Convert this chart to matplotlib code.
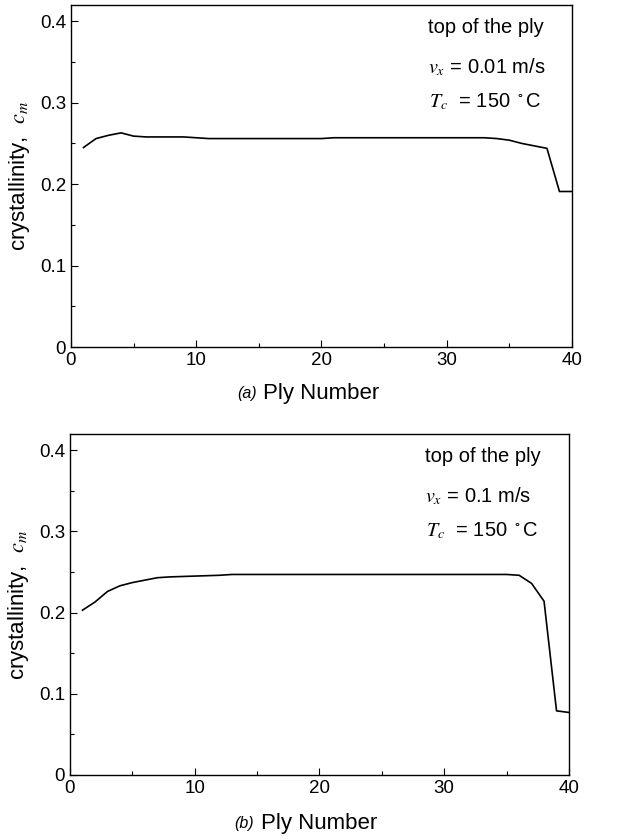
import matplotlib
matplotlib.use("Agg")
import matplotlib.pyplot as plt
from matplotlib.ticker import MultipleLocator, FuncFormatter

plt.rcParams['font.family'] = ['Liberation Sans', 'DejaVu Sans']
plt.rcParams['mathtext.fontset'] = 'stix'

ply = list(range(1, 41))
cryst_a = [0.245, 0.256, 0.260, 0.263, 0.259, 0.258, 0.258, 0.258, 0.258, 0.257,
           0.256, 0.256, 0.256, 0.256, 0.256, 0.256, 0.256, 0.256, 0.256, 0.256,
           0.257, 0.257, 0.257, 0.257, 0.257, 0.257, 0.257, 0.257, 0.257, 0.257,
           0.257, 0.257, 0.257, 0.256, 0.254, 0.250, 0.247, 0.244, 0.191, 0.191]
cryst_b = [0.203, 0.213, 0.226, 0.233, 0.237, 0.240, 0.243, 0.244, 0.2445, 0.245,
           0.2455, 0.246, 0.247, 0.247, 0.247, 0.247, 0.247, 0.247, 0.247, 0.247,
           0.247, 0.247, 0.247, 0.247, 0.247, 0.247, 0.247, 0.247, 0.247, 0.247,
           0.247, 0.247, 0.247, 0.247, 0.247, 0.246, 0.236, 0.214, 0.079, 0.077]
x_ticks = [0, 10, 20, 30, 40]
y_ticks = [0, 0.1, 0.2, 0.3, 0.4]
panel_tags = ['(a)', '(b)']
speeds = ['0.01', '0.1']

fig = plt.figure(figsize=(6.22, 8.39), dpi=100)
axes = [fig.add_axes([0.1141, 0.5864, 0.8055, 0.4076]),
        fig.add_axes([0.1125, 0.0763, 0.8023, 0.4064])]
tag_pos = [(0.372, -0.135), (0.368, -0.141)]

def fmt(v, pos):
    return '0' if abs(v) < 1e-9 else f'{v:.1f}'

for ax, data, tag, sp, tp in zip(axes, [cryst_a, cryst_b], panel_tags, speeds, tag_pos):
    ax.plot(ply, data, color='black', lw=1.2)
    ax.set_xlim(0, 40)
    ax.set_ylim(0, 0.42)
    ax.set_xticks(x_ticks)
    ax.set_yticks(y_ticks)
    ax.yaxis.set_major_formatter(FuncFormatter(fmt))
    ax.xaxis.set_minor_locator(MultipleLocator(5))
    ax.yaxis.set_minor_locator(MultipleLocator(0.05))
    ax.tick_params(which='both', direction='in', labelsize=13.5, width=0.8)
    ax.tick_params(which='major', length=5)
    ax.tick_params(which='minor', length=3)
    for s in ax.spines.values():
        s.set_linewidth(1.0)
    ax.set_ylabel('crystallinity,  $c_m$', fontsize=16, labelpad=6)
    ax.text(0.5, tp[1], 'Ply Number', transform=ax.transAxes, fontsize=16,
            ha='center', va='center')
    ax.text(tp[0], tp[1] - 0.002, tag, transform=ax.transAxes, fontsize=11.5,
            style='italic', ha='right', va='center')
    kw = dict(transform=ax.transAxes, fontsize=14.5, ha='left', va='center')
    ax.text(0.7117, 0.935, 'top of the ply', **kw)
    ax.text(0.7117, 0.817, r'$v_x$' + f' = {sp} m/s', **kw)
    ax.text(0.7137, 0.718, r'$T_c$' + '  = 150 $^\\circ$C', **kw)

fig.savefig('out.png', dpi=100)
